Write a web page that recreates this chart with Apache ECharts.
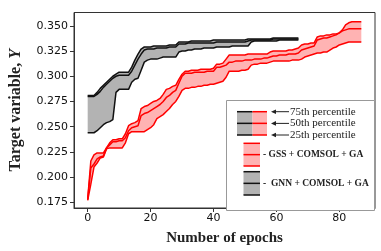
<!DOCTYPE html>
<html>
<head>
<meta charset="utf-8">
<script src="https://cdn.jsdelivr.net/npm/echarts@6/dist/echarts.min.js"></script>
<style>html,body{margin:0;padding:0;background:#fff}#c{width:381px;height:251px}</style>
</head>
<body>
<div id="c"></div>
<script>
// GSS + COMSOL + GA (red), epochs 0..87
const gssP75 = [0.178,0.216,0.222,0.224,0.224,0.224,0.229,0.234,0.237,0.237,0.238,0.238,0.243,0.251,0.253,0.254,0.256,0.268,0.270,0.271,0.273,0.275,0.276,0.278,0.282,0.287,0.288,0.290,0.291,0.297,0.302,0.305,0.305,0.306,0.306,0.306,0.307,0.307,0.307,0.307,0.308,0.312,0.312,0.313,0.317,0.321,0.321,0.321,0.321,0.321,0.321,0.322,0.322,0.322,0.322,0.322,0.322,0.322,0.324,0.325,0.325,0.325,0.325,0.325,0.326,0.326,0.327,0.328,0.331,0.332,0.332,0.333,0.333,0.339,0.340,0.340,0.341,0.341,0.342,0.342,0.343,0.346,0.351,0.353,0.354,0.354,0.354,0.354];
const gssP50 = [0.178,0.209,0.213,0.218,0.220,0.221,0.229,0.232,0.235,0.235,0.236,0.236,0.239,0.246,0.249,0.250,0.251,0.261,0.263,0.264,0.266,0.268,0.270,0.272,0.275,0.279,0.281,0.284,0.286,0.293,0.300,0.303,0.303,0.303,0.304,0.304,0.304,0.304,0.305,0.305,0.305,0.309,0.309,0.310,0.311,0.314,0.314,0.315,0.315,0.315,0.316,0.316,0.316,0.317,0.317,0.317,0.318,0.318,0.319,0.320,0.320,0.321,0.321,0.321,0.322,0.322,0.322,0.323,0.326,0.327,0.328,0.329,0.330,0.336,0.337,0.338,0.338,0.339,0.340,0.341,0.343,0.345,0.346,0.347,0.347,0.347,0.347,0.347];
const gssP25 = [0.177,0.193,0.210,0.214,0.219,0.220,0.228,0.229,0.229,0.229,0.229,0.229,0.234,0.243,0.245,0.245,0.245,0.245,0.245,0.247,0.249,0.252,0.258,0.260,0.262,0.265,0.268,0.272,0.275,0.280,0.286,0.288,0.288,0.289,0.289,0.290,0.290,0.291,0.291,0.292,0.292,0.293,0.294,0.295,0.299,0.305,0.305,0.305,0.305,0.306,0.306,0.307,0.311,0.312,0.312,0.313,0.313,0.313,0.314,0.315,0.315,0.315,0.315,0.315,0.315,0.316,0.316,0.316,0.317,0.319,0.320,0.321,0.322,0.323,0.323,0.324,0.324,0.326,0.328,0.329,0.331,0.332,0.333,0.334,0.334,0.334,0.334,0.334];
// GNN + COMSOL + GA (black), epochs 0..67
const gnnP75 = [0.281,0.281,0.281,0.284,0.288,0.291,0.294,0.297,0.300,0.302,0.304,0.304,0.304,0.304,0.309,0.316,0.322,0.327,0.329,0.329,0.329,0.330,0.330,0.330,0.330,0.330,0.331,0.331,0.331,0.334,0.334,0.334,0.334,0.335,0.335,0.335,0.335,0.335,0.335,0.335,0.336,0.336,0.336,0.336,0.336,0.336,0.336,0.336,0.336,0.336,0.336,0.337,0.337,0.337,0.337,0.337,0.337,0.337,0.337,0.338,0.338,0.338,0.338,0.338,0.338,0.338,0.338,0.338];
const gnnP50 = [0.280,0.280,0.280,0.282,0.285,0.289,0.292,0.295,0.298,0.300,0.301,0.301,0.301,0.301,0.305,0.311,0.317,0.322,0.326,0.327,0.327,0.327,0.328,0.328,0.328,0.328,0.329,0.329,0.329,0.332,0.332,0.332,0.333,0.333,0.333,0.333,0.333,0.333,0.333,0.333,0.333,0.334,0.334,0.334,0.334,0.334,0.334,0.334,0.334,0.334,0.334,0.335,0.336,0.336,0.336,0.336,0.336,0.336,0.336,0.337,0.337,0.337,0.337,0.337,0.337,0.337,0.337,0.337];
const gnnP25 = [0.244,0.244,0.244,0.246,0.249,0.252,0.254,0.255,0.257,0.284,0.287,0.287,0.287,0.287,0.294,0.297,0.298,0.306,0.314,0.316,0.317,0.317,0.317,0.318,0.319,0.319,0.319,0.319,0.319,0.324,0.325,0.325,0.326,0.326,0.327,0.327,0.327,0.328,0.328,0.328,0.328,0.329,0.329,0.329,0.329,0.329,0.330,0.330,0.330,0.330,0.330,0.330,0.334,0.335,0.335,0.335,0.335,0.335,0.335,0.335,0.335,0.336,0.336,0.336,0.336,0.336,0.336,0.336];
const xTicks = [0, 20, 40, 60, 80];
const yTicks = [0.175, 0.200, 0.225, 0.250, 0.275, 0.300, 0.325, 0.350];

const pts = arr => arr.map((v, i) => [i, v]);

const RED = '#ff0000', BLACK = '#111111';
const REDFILL = '#ffb3b3', GREYFILL = '#b3b3b3';

function band(lo, hi, mid, lineColor, fill, z) {
  return [
    {type:'custom', silent:true, z:z, data:[0],
     renderItem:function(params, api){
       const upper = hi.map((v, i) => api.coord([i, v]));
       const lower = lo.map((v, i) => api.coord([i, v])).reverse();
       return {type:'polygon', shape:{points:upper.concat(lower)}, style:{fill:fill}};
     }},
    {type:'line', data:pts(lo), showSymbol:false, silent:true, lineStyle:{color:lineColor, width:1.5}, z:z+1},
    {type:'line', data:pts(mid), showSymbol:false, silent:true, lineStyle:{color:lineColor, width:1.5}, z:z+1},
    {type:'line', data:pts(hi), showSymbol:false, silent:true, lineStyle:{color:lineColor, width:1.5}, z:z+1}
  ];
}

const serif = 'Liberation Serif';
function arrow(y) {
  return [
    {type:'line', shape:{x1:275, y1:y, x2:289, y2:y}, style:{stroke:'#222', lineWidth:1}, z:101},
    {type:'polygon', shape:{points:[[271,y],[276,y-2.3],[276,y+2.3]]}, style:{fill:'#222'}, z:101}
  ];
}
function patch(x, w, y0, y1, fill, lc) {
  const ym = (y0 + y1) / 2;
  return [
    {type:'rect', shape:{x:x, y:y0, width:w, height:y1-y0}, style:{fill:fill}, z:100},
    {type:'line', shape:{x1:x, y1:y0, x2:x+w, y2:y0}, style:{stroke:lc, lineWidth:1.5}, z:101},
    {type:'line', shape:{x1:x, y1:ym, x2:x+w, y2:ym}, style:{stroke:lc, lineWidth:1.5}, z:101},
    {type:'line', shape:{x1:x, y1:y1, x2:x+w, y2:y1}, style:{stroke:lc, lineWidth:1.5}, z:101}
  ];
}
const legendGraphics = [].concat(
  [{type:'rect', shape:{x:226.5, y:100.5, width:148, height:110}, style:{fill:'#fff', stroke:'#999', lineWidth:1}, z:99}],
  patch(237, 15.5, 111.7, 135, GREYFILL, BLACK),
  patch(252.5, 14.5, 111.7, 135, REDFILL, RED),
  arrow(111.7), arrow(123.4), arrow(135),
  [
    {type:'text', x:290, y:111.7, style:{text:'75th percentile', font:'11px "Liberation Serif"', fill:'#222', verticalAlign:'middle'}, z:101},
    {type:'text', x:290, y:123.4, style:{text:'50th percentile', font:'11px "Liberation Serif"', fill:'#222', verticalAlign:'middle'}, z:101},
    {type:'text', x:290, y:135, style:{text:'25th percentile', font:'11px "Liberation Serif"', fill:'#222', verticalAlign:'middle'}, z:101}
  ],
  patch(243.5, 16.5, 143.3, 166, REDFILL, RED),
  patch(243.5, 16.5, 171.7, 195, GREYFILL, BLACK),
  [
    {type:'text', x:263, y:155, style:{text:'- GSS + COMSOL + GA', font:'bold 9.5px "Liberation Serif"', fill:'#222', verticalAlign:'middle'}, z:101},
    {type:'text', x:263, y:183.5, style:{text:'-  GNN + COMSOL + GA', font:'bold 9.5px "Liberation Serif"', fill:'#222', verticalAlign:'middle'}, z:101}
  ]
);

const chart = echarts.init(document.getElementById('c'), null, {renderer:'canvas'});
chart.setOption({
  animation:false,
  backgroundColor:'#fff',
  grid:{left:68, right:6, top:12.5, bottom:40.5, show:true, borderColor:'#333', borderWidth:1, backgroundColor:'transparent'},
  xAxis:{
    type:'value', min:-4.35, max:91.35,
    name:'Number of epochs', nameLocation:'middle', nameGap:23,
    nameTextStyle:{fontFamily:serif, fontWeight:'bold', fontSize:15, color:'#222'},
    axisLine:{show:true, onZero:false, lineStyle:{color:'#333', width:1}},
    axisTick:{show:true, inside:false, length:4, lineStyle:{color:'#333'}, customValues:xTicks},
    axisLabel:{show:true, fontFamily:'DejaVu Sans', fontSize:11, color:'#111', margin:5, customValues:xTicks, formatter:v=>String(v)},
    splitLine:{show:false}
  },
  yAxis:{
    type:'value', min:0.1694, max:0.3632,
    name:'{b|Target variable, }{i|Y}', nameLocation:'middle', nameGap:50, nameRotate:90,
    nameTextStyle:{rich:{b:{fontFamily:serif, fontWeight:'bold', fontSize:16, color:'#222'}, i:{fontFamily:serif, fontStyle:'italic', fontWeight:'bold', fontSize:16, color:'#222'}}},
    axisLine:{show:true, onZero:false, lineStyle:{color:'#333', width:1}},
    axisTick:{show:true, inside:false, length:4, lineStyle:{color:'#333'}, customValues:yTicks},
    axisLabel:{show:true, fontFamily:'DejaVu Sans', fontSize:11, color:'#111', margin:6, customValues:yTicks, formatter:v=>v.toFixed(3)},
    splitLine:{show:false}
  },
  series:[].concat(
    band(gssP25, gssP75, gssP50, RED, REDFILL, 2),
    band(gnnP25, gnnP75, gnnP50, BLACK, GREYFILL, 4)
  ),
  graphic:legendGraphics
});
</script>
</body>
</html>
